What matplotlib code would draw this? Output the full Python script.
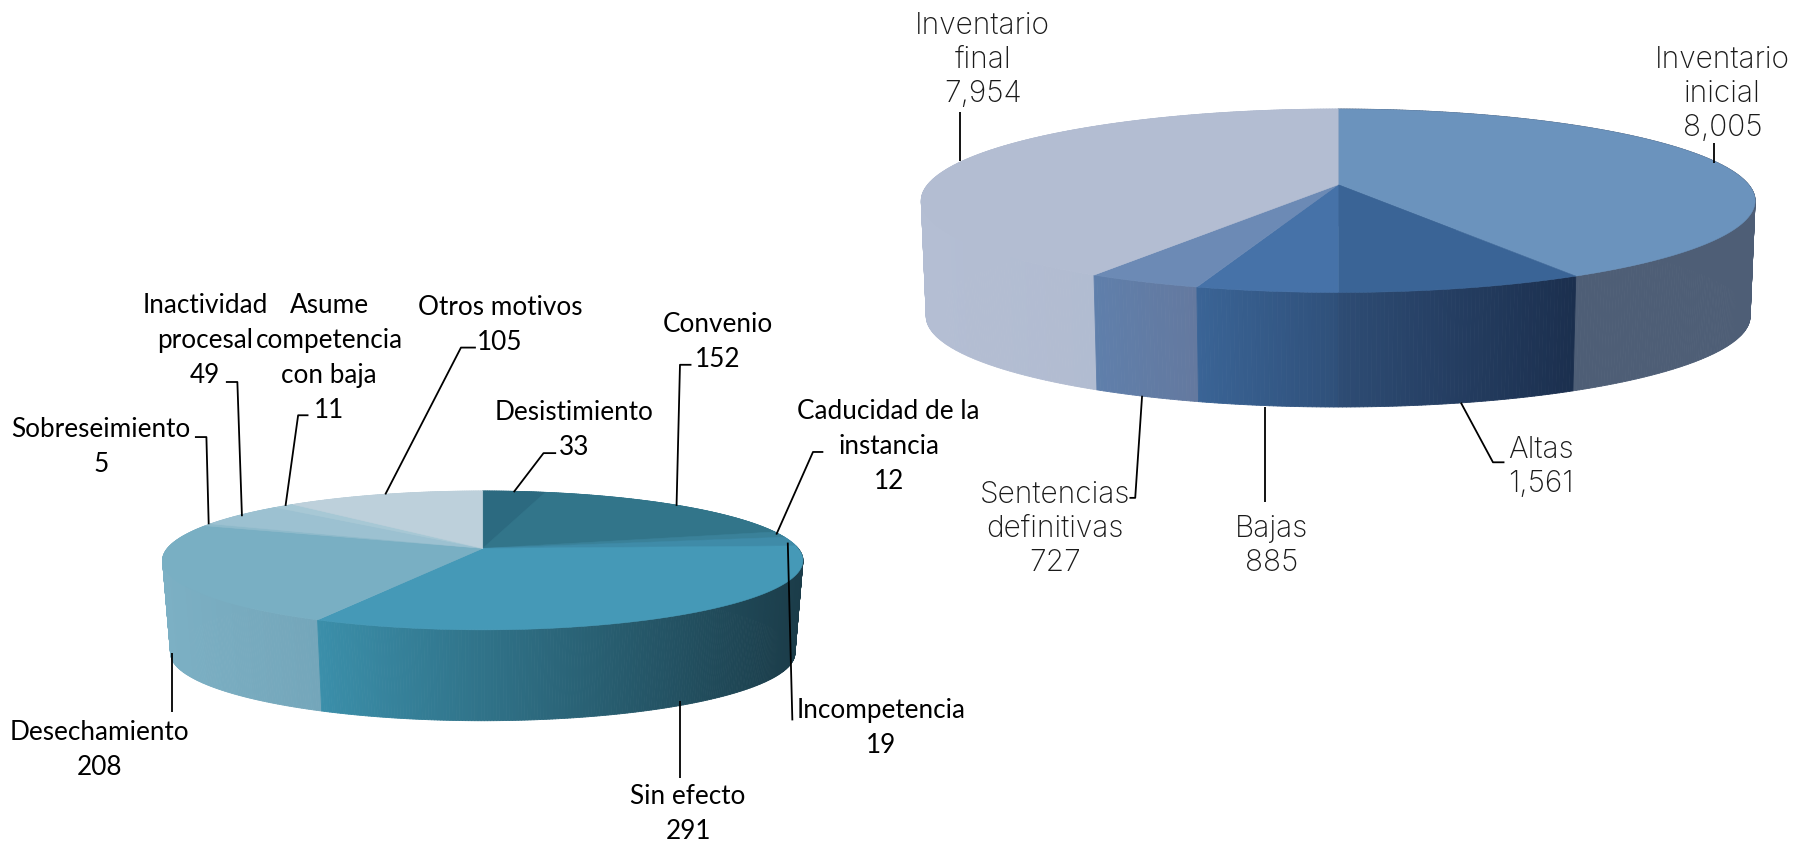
import numpy as np
import matplotlib
matplotlib.use("Agg")
import matplotlib.pyplot as plt
from matplotlib.collections import PolyCollection
from matplotlib.patches import Polygon
from matplotlib.colors import to_rgb

# ---- data
right_labels = ["Inventario\ninicial", "Altas", "Bajas", "Sentencias\ndefinitivas", "Inventario\nfinal"]
right_values = [8005, 1561, 885, 727, 7954]
left_labels = ["Desistimiento", "Convenio", "Caducidad de la\ninstancia", "Incompetencia", "Sin efecto",
               "Desechamiento", "Sobreseimiento", "Inactividad\nprocesal", "Asume\ncompetencia\ncon baja", "Otros motivos"]
left_values = [33, 152, 12, 19, 291, 208, 5, 49, 11, 105]

# ---- styles
right_top = ["#6B93BD", "#3A6496", "#4672A8", "#6C8AB5", "#B3BDD2"]
right_side = [("#4E5E76", "#4E5E76"), ("#2E4C74", "#1B2F4E"), ("#3A6496", "#2F507A"),
              ("#5F7FAB", "#64799F"), ("#B4BED3", "#ADB8CE")]
left_top = ["#2C6A80", "#32758A", "#3A8199", "#3F8BA8", "#4599B7",
            "#79AFC3", "#8EBACB", "#9CC1D1", "#A7C8D5", "#BDD0DB"]
left_side = [("#2C6A80", "#2C6A80"), ("#32758A", "#32758A"), ("#3A8199", "#3A8199"), ("#3F8BA8", "#3F8BA8"),
             ("#3B8FAA", "#1B3C49"), ("#7CB0C4", "#74A6BA"), ("#8EBACB", "#8EBACB"),
             ("#9CC1D1", "#9CC1D1"), ("#A7C8D5", "#A7C8D5"), ("#BDD0DB", "#BDD0DB")]

fig = plt.figure(figsize=(17.98, 8.42), dpi=100, facecolor="white")
ax = fig.add_axes([0, 0, 1, 1])
ax.set_xlim(0, 1568)
ax.set_ylim(734, 0)
ax.axis("off")


def project(theta, cx, cy, a, b, k, s=1.0, h=0.0):
    """theta clockwise from the top of the disc; perspective disc."""
    ux, uy = np.sin(theta), np.cos(theta)
    d = 1 + k * uy
    return cx + s * b * ux / d, cy + h - s * a * uy / d


def pie3d(values, tops, sides, cx, cy, a, b, k, s, h):
    edges = np.concatenate([[0], np.cumsum(values)]) / np.sum(values) * 2 * np.pi
    quads, cols = [], []
    for i in range(len(values)):
        t = np.linspace(edges[i], edges[i + 1], max(4, int((edges[i + 1] - edges[i]) * 120)))
        xt, yt = project(t, cx, cy, a, b, k)
        xb, yb = project(t, cx, cy, a, b, k, s, h)
        lo, hi = xt.min(), xt.max()
        cl, cr = np.array(to_rgb(sides[i][0])), np.array(to_rgb(sides[i][1]))
        for j in range(len(t) - 1):
            quads.append([(xt[j], yt[j]), (xt[j + 1], yt[j + 1]), (xb[j + 1], yb[j + 1]), (xb[j], yb[j])])
            f = ((xt[j] + xt[j + 1]) / 2 - lo) / max(hi - lo, 1e-6)
            cols.append(cl + (cr - cl) * f)
    order = np.argsort([np.mean([p[1] for p in q]) for q in quads])
    ax.add_collection(PolyCollection([quads[o] for o in order], facecolors=[cols[o] for o in order],
                                     edgecolors=[cols[o] for o in order], linewidths=0.6, zorder=2))
    for i in range(len(values)):
        t = np.linspace(edges[i], edges[i + 1], 200)
        xt, yt = project(t, cx, cy, a, b, k)
        pts = np.column_stack([np.r_[cx, xt], np.r_[cy, yt]])
        ax.add_patch(Polygon(pts, closed=True, facecolor=tops[i], edgecolor=tops[i], linewidth=0.4, zorder=3))


pie3d(right_values, right_top, right_side, 1167, 161, 77.5, 358, 0.175, 0.988, 101)
pie3d(left_values, left_top, left_side, 421, 478, 58.7, 275, 0.174, 0.975, 81)

# ---- leader lines (layout only)
right_leaders = [
    [(1495, 125), (1495, 142)],
    [(1274, 351), (1302, 403), (1312, 403)],
    [(1103, 355), (1103, 438)],
    [(996, 345), (990, 434), (985, 434)],
    [(837, 98), (837, 140)],
]
left_leaders = [
    [(448, 429), (474, 395), (485, 395)],
    [(590, 441), (593, 318), (603, 318)],
    [(677, 466), (709, 394), (718, 394)],
    [(687, 473), (691, 628)],
    [(593, 611), (593, 678)],
    [(150, 569), (150, 621)],
    [(182, 457), (180, 381), (170, 381)],
    [(211, 450), (207, 333), (197, 333)],
    [(249, 441), (260, 362), (269, 362)],
    [(336, 431), (402, 303), (415, 303)],
]
for ln in right_leaders + left_leaders:
    ax.plot(*zip(*ln), color="black", lw=1.3, zorder=4, solid_capstyle="butt")

# ---- labels
right_pos = [(1502, 82), (1344, 407), (1109, 476), (920, 461), (857, 52)]
left_pos = [(501, 375), (626, 298), (775, 389), (768, 635), (600, 710),
            (87, 654), (88, 390), (179, 297), (287, 312), (436, 283)]
for lab, v, (x, y) in zip(right_labels, right_values, right_pos):
    ax.text(x, y, f"{lab}\n{v:,}", ha="center", va="center", family="Inter", fontweight="light",
            fontsize=21.5, color="#1a1a1a", linespacing=1.27, zorder=5)
for lab, v, (x, y) in zip(left_labels, left_values, left_pos):
    ax.text(x, y, f"{lab}\n{v:,}", ha="center", va="center", family="Lato",
            fontsize=18.8, color="black", linespacing=1.5, zorder=5)

fig.savefig("out.png", dpi=100, facecolor="white")
